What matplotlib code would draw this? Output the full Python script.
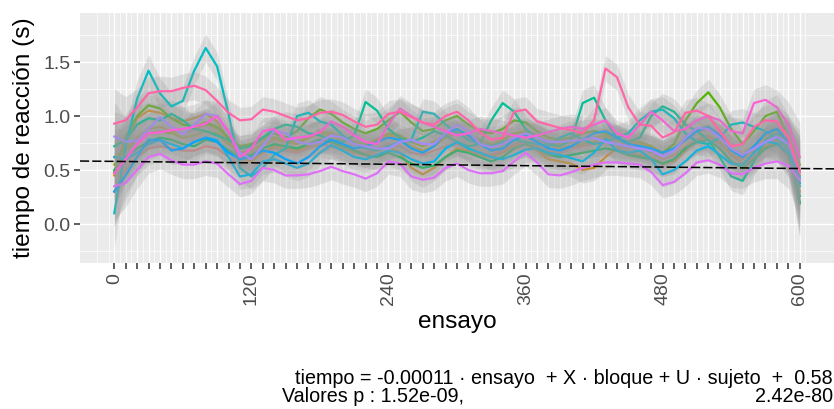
import math
import numpy as np
import matplotlib
matplotlib.use("Agg")
import matplotlib.pyplot as plt
from matplotlib.ticker import MultipleLocator, FixedLocator

plt.rcParams['font.family'] = ['Liberation Sans', 'DejaVu Sans']

# ---------------- data ----------------
ensayo = np.arange(0, 601, 10)

sujeto_01 = [0.30, 0.50, 0.62, 0.70, 0.72, 0.70, 0.68, 0.68, 0.72, 0.70, 0.62, 0.55, 0.58, 0.66, 0.70, 0.68,
             0.66, 0.70, 0.74, 0.72, 0.70, 0.68, 0.66, 0.70, 0.74, 0.72, 0.66, 0.64, 0.68, 0.72, 0.74, 0.70,
             0.66, 0.64, 0.68, 0.74, 0.76, 0.72, 0.68, 0.66, 0.70, 0.72, 0.74, 0.76, 0.72, 0.70, 0.70, 0.66,
             0.60, 0.64, 0.72, 0.78, 0.80, 0.74, 0.64, 0.60, 0.68, 0.76, 0.78, 0.70, 0.45]
sujeto_02 = [0.45, 0.75, 0.98, 1.05, 1.03, 0.98, 0.95, 0.98, 1.02, 0.95, 0.78, 0.60, 0.58, 0.66, 0.72, 0.70,
             0.68, 0.72, 0.78, 0.76, 0.70, 0.66, 0.64, 0.68, 0.72, 0.66, 0.52, 0.46, 0.52, 0.62, 0.70, 0.68,
             0.64, 0.62, 0.66, 0.72, 0.74, 0.68, 0.60, 0.58, 0.56, 0.50, 0.52, 0.62, 0.70, 0.66, 0.64, 0.62,
             0.56, 0.58, 0.68, 0.78, 0.82, 0.76, 0.64, 0.56, 0.62, 0.72, 0.76, 0.68, 0.30]
sujeto_03 = [0.62, 0.70, 0.80, 0.88, 0.90, 0.86, 0.84, 0.88, 0.92, 0.88, 0.76, 0.66, 0.68, 0.74, 0.78, 0.76,
             0.74, 0.80, 0.84, 0.82, 0.78, 0.74, 0.72, 0.76, 0.82, 0.80, 0.72, 0.68, 0.72, 0.80, 0.84, 0.80,
             0.74, 0.70, 0.74, 0.80, 0.84, 0.80, 0.74, 0.70, 0.72, 0.74, 0.76, 0.80, 0.78, 0.74, 0.74, 0.70,
             0.64, 0.68, 0.78, 0.86, 0.88, 0.80, 0.68, 0.62, 0.72, 0.82, 0.86, 0.76, 0.50]
sujeto_04 = [0.55, 0.68, 0.78, 0.84, 0.86, 0.84, 0.80, 0.82, 0.86, 0.84, 0.74, 0.70, 0.72, 0.78, 0.80, 0.78,
             0.76, 0.80, 0.86, 0.84, 0.80, 0.76, 0.74, 0.78, 0.84, 0.82, 0.76, 0.72, 0.76, 0.82, 0.86, 0.82,
             0.78, 0.74, 0.78, 0.84, 0.86, 0.82, 0.76, 0.74, 0.76, 0.78, 0.80, 0.82, 0.80, 0.76, 0.76, 0.72,
             0.66, 0.70, 0.80, 0.88, 0.90, 0.82, 0.70, 0.64, 0.72, 0.84, 0.88, 0.78, 0.55]
sujeto_05 = [0.48, 0.80, 1.00, 1.10, 1.07, 0.98, 0.92, 0.90, 0.94, 0.90, 0.80, 0.72, 0.74, 0.80, 0.84, 0.80,
             0.86, 0.98, 1.06, 1.02, 0.94, 0.88, 0.84, 0.88, 0.96, 1.04, 0.94, 0.86, 0.88, 0.96, 1.00, 0.92,
             0.86, 0.84, 0.88, 0.96, 0.94, 0.86, 0.80, 0.78, 0.80, 0.84, 0.86, 0.84, 0.78, 0.74, 0.72, 0.70,
             0.66, 0.74, 0.96, 1.12, 1.22, 1.08, 0.88, 0.74, 0.86, 1.00, 1.04, 0.80, 0.19]
sujeto_06 = [0.50, 0.62, 0.70, 0.76, 0.80, 0.78, 0.74, 0.72, 0.78, 0.76, 0.68, 0.62, 0.64, 0.70, 0.74, 0.72,
             0.70, 0.74, 0.78, 0.76, 0.72, 0.68, 0.64, 0.62, 0.66, 0.62, 0.56, 0.52, 0.54, 0.62, 0.68, 0.66,
             0.62, 0.58, 0.62, 0.70, 0.74, 0.70, 0.64, 0.62, 0.64, 0.66, 0.68, 0.70, 0.68, 0.64, 0.62, 0.60,
             0.56, 0.60, 0.70, 0.76, 0.78, 0.70, 0.58, 0.52, 0.60, 0.70, 0.74, 0.64, 0.26]
sujeto_07 = [0.72, 0.78, 0.92, 0.98, 0.96, 1.02, 0.96, 0.88, 0.86, 0.82, 0.78, 0.70, 0.72, 0.80, 0.88, 0.92,
             0.90, 0.84, 0.82, 0.78, 0.76, 0.82, 1.13, 1.05, 0.88, 0.80, 0.76, 0.80, 0.86, 0.82, 0.76, 0.72,
             0.74, 0.96, 1.12, 1.04, 0.88, 0.80, 0.74, 0.72, 0.78, 1.12, 1.17, 0.96, 0.80, 0.76, 0.80, 1.00,
             1.09, 1.04, 0.92, 0.86, 0.78, 0.62, 0.44, 0.40, 0.58, 0.78, 0.84, 0.70, 0.20]
sujeto_08 = [0.10, 0.72, 1.16, 1.42, 1.21, 1.09, 1.14, 1.42, 1.63, 1.46, 1.02, 0.52, 0.44, 0.52, 0.64, 0.70,
             1.00, 1.03, 0.95, 0.92, 0.82, 0.74, 0.70, 0.68, 0.72, 0.76, 0.78, 1.04, 1.02, 0.92, 0.84, 0.78,
             0.74, 0.72, 0.76, 0.78, 0.76, 0.74, 0.72, 0.80, 0.84, 0.78, 0.74, 0.76, 0.80, 0.84, 0.96, 1.04,
             1.06, 0.98, 0.84, 0.76, 0.74, 0.80, 0.92, 0.94, 0.90, 0.86, 0.80, 0.70, 0.35]
sujeto_09 = [0.62, 0.60, 0.66, 0.74, 0.78, 0.74, 0.70, 0.76, 0.80, 0.78, 0.62, 0.44, 0.46, 0.58, 0.60, 0.56,
             0.52, 0.56, 0.66, 0.73, 0.68, 0.62, 0.60, 0.64, 0.68, 0.66, 0.60, 0.56, 0.58, 0.70, 0.76, 0.70,
             0.66, 0.62, 0.60, 0.64, 0.69, 0.70, 0.66, 0.64, 0.61, 0.58, 0.66, 0.79, 0.68, 0.66, 0.68, 0.60,
             0.46, 0.50, 0.58, 0.68, 0.72, 0.64, 0.56, 0.55, 0.66, 0.76, 0.75, 0.66, 0.43]
sujeto_10 = [0.30, 0.45, 0.62, 0.78, 0.78, 0.68, 0.70, 0.76, 0.80, 0.76, 0.66, 0.60, 0.62, 0.68, 0.66, 0.60,
             0.56, 0.62, 0.72, 0.78, 0.74, 0.70, 0.72, 0.76, 0.80, 0.78, 0.70, 0.66, 0.72, 0.84, 0.88, 0.82,
             0.74, 0.68, 0.70, 0.78, 0.82, 0.76, 0.70, 0.68, 0.72, 0.78, 0.84, 0.86, 0.80, 0.74, 0.72, 0.70,
             0.66, 0.70, 0.78, 0.86, 0.90, 0.82, 0.68, 0.62, 0.72, 0.84, 0.88, 0.76, 0.38]
sujeto_11 = [0.81, 0.76, 0.77, 0.88, 0.99, 0.90, 0.83, 0.92, 1.02, 1.00, 0.85, 0.66, 0.60, 0.72, 0.86, 0.84,
             0.76, 0.74, 0.76, 0.82, 0.80, 0.74, 0.72, 0.70, 0.70, 0.76, 0.78, 0.74, 0.74, 0.84, 0.92, 0.86,
             0.74, 0.71, 0.74, 0.80, 0.84, 0.80, 0.76, 0.76, 0.77, 0.78, 0.80, 0.76, 0.74, 0.72, 0.70, 0.68,
             0.63, 0.68, 0.80, 0.89, 0.88, 0.80, 0.70, 0.64, 0.70, 0.76, 0.81, 0.74, 0.48]
sujeto_12 = [0.35, 0.38, 0.50, 0.62, 0.65, 0.59, 0.55, 0.55, 0.58, 0.56, 0.46, 0.37, 0.40, 0.52, 0.50, 0.45,
             0.45, 0.46, 0.49, 0.53, 0.49, 0.46, 0.42, 0.47, 0.58, 0.56, 0.44, 0.41, 0.43, 0.52, 0.56, 0.50,
             0.47, 0.47, 0.49, 0.58, 0.66, 0.57, 0.46, 0.45, 0.48, 0.52, 0.55, 0.57, 0.57, 0.56, 0.55, 0.48,
             0.36, 0.39, 0.47, 0.57, 0.59, 0.55, 0.47, 0.46, 0.52, 0.56, 0.58, 0.54, 0.41]
sujeto_13 = [0.47, 0.60, 0.74, 0.84, 0.85, 0.87, 0.88, 0.90, 0.93, 1.00, 0.86, 0.62, 0.70, 0.86, 0.88, 0.78,
             0.80, 0.81, 0.85, 0.95, 0.90, 0.82, 0.76, 0.74, 0.92, 1.07, 1.00, 0.94, 0.90, 0.86, 0.82, 0.84,
             0.88, 0.86, 0.84, 0.82, 0.80, 0.82, 0.85, 0.88, 0.90, 0.88, 0.92, 0.96, 0.84, 0.80, 0.92, 1.04,
             0.96, 0.86, 0.88, 0.96, 1.00, 0.96, 0.86, 0.84, 1.12, 1.15, 1.08, 0.92, 0.62]
sujeto_14 = [0.93, 0.96, 1.08, 1.21, 1.23, 1.23, 1.26, 1.28, 1.24, 1.14, 1.03, 0.96, 0.97, 1.06, 1.04, 1.00,
             0.96, 0.98, 1.03, 1.04, 1.01, 0.95, 0.90, 0.92, 1.02, 1.04, 0.99, 0.94, 0.92, 1.00, 1.04, 0.96,
             0.85, 0.78, 0.80, 1.04, 1.06, 0.95, 0.92, 0.89, 0.87, 0.84, 0.96, 1.44, 1.36, 1.08, 0.92, 0.91,
             0.80, 0.85, 1.03, 1.05, 1.00, 0.86, 0.72, 0.74, 0.90, 0.96, 0.95, 0.80, 0.48]

sujetos = [sujeto_01, sujeto_02, sujeto_03, sujeto_04, sujeto_05, sujeto_06, sujeto_07,
           sujeto_08, sujeto_09, sujeto_10, sujeto_11, sujeto_12, sujeto_13, sujeto_14]

# half width of the confidence band of each smooth
semiancho = [0.32, 0.22, 0.17, 0.15, 0.14, 0.13, 0.13, 0.13, 0.13, 0.13, 0.12, 0.12, 0.12, 0.12, 0.12, 0.12,
             0.12, 0.12, 0.12, 0.12, 0.12, 0.12, 0.12, 0.12, 0.12, 0.12, 0.12, 0.12, 0.12, 0.12, 0.12, 0.12,
             0.12, 0.12, 0.12, 0.12, 0.12, 0.12, 0.12, 0.12, 0.12, 0.12, 0.12, 0.12, 0.12, 0.12, 0.12, 0.12,
             0.12, 0.12, 0.12, 0.12, 0.12, 0.12, 0.13, 0.13, 0.13, 0.14, 0.16, 0.21, 0.32]

pendiente = -0.00011
intercepto = 0.58
texto_modelo = "tiempo = -0.00011 \u00b7 ensayo  + X \u00b7 bloque + U \u00b7 sujeto  +  0.58"
texto_p1 = "Valores p : 1.52e-09,"
texto_p2 = "2.42e-80"
xticks_lab = [0, 120, 240, 360, 480, 600]


# ---------------- colours (ggplot2 hue palette) ----------------
def hcl_hex(h, c=100.0, l=65.0):
    hr = math.radians(h)
    u, v = c * math.cos(hr), c * math.sin(hr)
    Xn, Yn, Zn = 95.047, 100.0, 108.883
    un = 4 * Xn / (Xn + 15 * Yn + 3 * Zn)
    vn = 9 * Yn / (Xn + 15 * Yn + 3 * Zn)
    Y = Yn * ((l + 16) / 116) ** 3
    up = u / (13 * l) + un
    vp = v / (13 * l) + vn
    X = Y * 9 * up / (4 * vp)
    Z = Y * (12 - 3 * up - 20 * vp) / (4 * vp)
    X, Y, Z = X / 100, Y / 100, Z / 100
    rgb = [3.2406 * X - 1.5372 * Y - 0.4986 * Z,
           -0.9689 * X + 1.8758 * Y + 0.0415 * Z,
           0.0557 * X - 0.2040 * Y + 1.0570 * Z]
    out = []
    for ch in rgb:
        ch = 12.92 * ch if ch <= 0.0031308 else 1.055 * ch ** (1 / 2.4) - 0.055
        out.append(min(1, max(0, ch)))
    return tuple(out)


n = len(sujetos)
colores = [hcl_hex(15 + 360 * i / n) for i in range(n)]

# ---------------- figure ----------------
fig = plt.figure(figsize=(8.34, 4.09), dpi=100)
ax = fig.add_axes([80 / 834, 1 - 263 / 409, 1 - 80 / 834, 250 / 409])
ax.set_facecolor('#EBEBEB')
for s in ax.spines.values():
    s.set_visible(False)

ax.set_xlim(-30, 630)
ax.set_ylim(-0.361, 1.954)

ax.xaxis.set_minor_locator(FixedLocator(np.arange(-10, 611, 10) - 5))
ax.set_xticks(np.arange(0, 601, 10))
ax.set_xticklabels([str(int(v)) if int(v) in xticks_lab else "" for v in np.arange(0, 601, 10)],
                   rotation=90)
ax.yaxis.set_major_locator(FixedLocator([0.0, 0.5, 1.0, 1.5]))
ax.yaxis.set_minor_locator(FixedLocator([-0.25, 0.25, 0.75, 1.25, 1.75]))
ax.set_yticklabels(["0.0", "0.5", "1.0", "1.5"])

ax.grid(which='major', color='white', linewidth=1.0)
ax.grid(which='minor', color='white', linewidth=0.5)
ax.set_axisbelow(True)
ax.tick_params(which='major', length=4, width=1.1, color='#333333', labelcolor='#4D4D4D',
               labelsize=14, pad=3)
ax.tick_params(which='minor', length=0)

sa = np.array(semiancho)
for vals, col in zip(sujetos, colores):
    v = np.array(vals)
    ax.fill_between(ensayo, v - sa, v + sa, color='#999999', alpha=0.24, linewidth=0, zorder=2)
    ax.plot(ensayo, v, color=col, linewidth=1.6, zorder=2)

ax.axline((0, intercepto), slope=pendiente, color='black', linewidth=1.1,
          linestyle=(0, (6, 2)), zorder=3)

ax.set_xlabel("ensayo", fontsize=17.6, labelpad=4)
ax.set_ylabel("tiempo de reacci\u00f3n (s)", fontsize=17.6, labelpad=6)

fig.text(833 / 834, 1 - 378 / 409, texto_modelo, ha='right', va='center', fontsize=14.2)
fig.text(282 / 834, 1 - 397 / 409, texto_p1, ha='left', va='center', fontsize=14.2)
fig.text(833 / 834, 1 - 397 / 409, texto_p2, ha='right', va='center', fontsize=14.2)

fig.savefig("out.png", dpi=100)
